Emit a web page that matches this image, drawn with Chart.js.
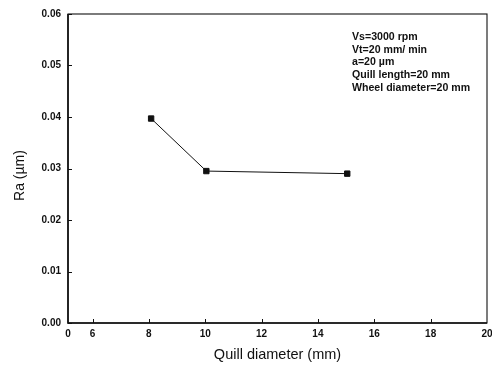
<!DOCTYPE html>
<html>
<head>
<meta charset="utf-8">
<script src="https://cdn.jsdelivr.net/npm/chart.js@4/dist/chart.umd.min.js"></script>
<style>
  html, body { margin: 0; padding: 0; background: #fff; }
  #wrap { width: 492px; height: 365px; }
</style>
</head>
<body>
<div id="wrap"><canvas id="c" width="492" height="365"></canvas></div>
<script>
// Surface roughness vs. quill diameter
const quillDiameter = [8.08, 10.04, 15.04];     // mm
const roughnessRa   = [0.0397, 0.0295, 0.0290]; // µm

const xMin = 5.13, xMax = 20;
const xTickValues = [xMin, 6, 8, 10, 12, 14, 16, 18, 20];
const xTickLabels = ['0', '6', '8', '10', '12', '14', '16', '18', '20'];
const yTickValues = [0, 0.01, 0.02, 0.03, 0.04, 0.05, 0.06];

const yTitle = 'Ra (\u00B5m)';
const conditions = [
  'Vs=3000 rpm',
  'Vt=20 mm/ min',
  'a=20 \u00B5m',
  'Quill length=20 mm',
  'Wheel diameter=20 mm'
];

const ink = '#111';
const family = '"Liberation Sans", Arial, sans-serif';

// Frame, inward tick marks, y-axis title and the process-condition note
const framePlugin = {
  id: 'frame',
  afterDatasetsDraw(chart) {
    const { ctx, chartArea: a, scales } = chart;
    ctx.save();
    ctx.strokeStyle = ink;
    ctx.lineWidth = 1.1;
    ctx.strokeRect(a.left, a.top, a.right - a.left, a.bottom - a.top);
    // heavier left and bottom axis lines
    ctx.lineWidth = 1.6;
    ctx.beginPath();
    ctx.moveTo(a.left, a.top);
    ctx.lineTo(a.left, a.bottom);
    ctx.lineTo(a.right, a.bottom);
    ctx.stroke();

    ctx.lineWidth = 1;
    ctx.beginPath();
    yTickValues.forEach(v => {
      const y = Math.round(scales.y.getPixelForValue(v)) + 0.5;
      ctx.moveTo(a.left, y);
      ctx.lineTo(a.left + 4, y);
    });
    xTickValues.slice(1, -1).forEach(v => {
      const x = Math.round(scales.x.getPixelForValue(v)) + 0.5;
      ctx.moveTo(x, a.bottom);
      ctx.lineTo(x, a.bottom - 4);
    });
    ctx.stroke();

    ctx.fillStyle = ink;
    ctx.textBaseline = 'middle';
    ctx.textAlign = 'center';
    ctx.font = '14px ' + family;
    ctx.save();
    ctx.translate(20, (a.top + a.bottom) / 2 + 7);
    ctx.rotate(-Math.PI / 2);
    ctx.fillText(yTitle, 0, 0);
    ctx.restore();

    ctx.font = 'bold 10.6px ' + family;
    ctx.textAlign = 'left';
    conditions.forEach((t, i) => ctx.fillText(t, 352, 37 + i * 12.75));
    ctx.restore();
  }
};

new Chart(document.getElementById('c'), {
  type: 'scatter',
  data: {
    datasets: [{
      data: quillDiameter.map((x, i) => ({ x, y: roughnessRa[i] })),
      showLine: true,
      borderColor: ink,
      borderWidth: 1,
      backgroundColor: ink,
      pointStyle: 'rect',
      pointRadius: 3.8,
      pointHoverRadius: 3.8
    }]
  },
  options: {
    responsive: false,
    animation: false,
    events: [],
    layout: { padding: { top: 14, right: 5, left: 0, bottom: 0 } },
    plugins: { legend: { display: false }, tooltip: { enabled: false } },
    scales: {
      x: {
        type: 'linear',
        min: xMin,
        max: xMax,
        afterBuildTicks(s) { s.ticks = xTickValues.map(v => ({ value: v })); },
        afterFit(s) { s.height = 42; s.paddingLeft = 0; s.paddingRight = 0; },
        grid: { display: false, drawTicks: false },
        border: { display: false },
        ticks: {
          padding: 5,
          color: ink,
          font: { family, size: 10, weight: 'bold' },
          callback(v, i) { return xTickLabels[i]; }
        },
        title: {
          display: true,
          text: 'Quill diameter (mm)',
          color: ink,
          padding: { top: 3, bottom: 1.5 },
          font: { family, size: 14.5 }
        }
      },
      y: {
        min: 0,
        max: 0.06,
        afterBuildTicks(s) { s.ticks = yTickValues.map(v => ({ value: v })); },
        afterFit(s) { s.width = 68; s.paddingTop = 0; s.paddingBottom = 0; },
        grid: { display: false, drawTicks: false },
        border: { display: false },
        ticks: {
          padding: 7,
          color: ink,
          font: { family, size: 10, weight: 'bold' },
          callback(v) { return v.toFixed(2); }
        },
        title: { display: false }
      }
    }
  },
  plugins: [framePlugin]
});
</script>
</body>
</html>
